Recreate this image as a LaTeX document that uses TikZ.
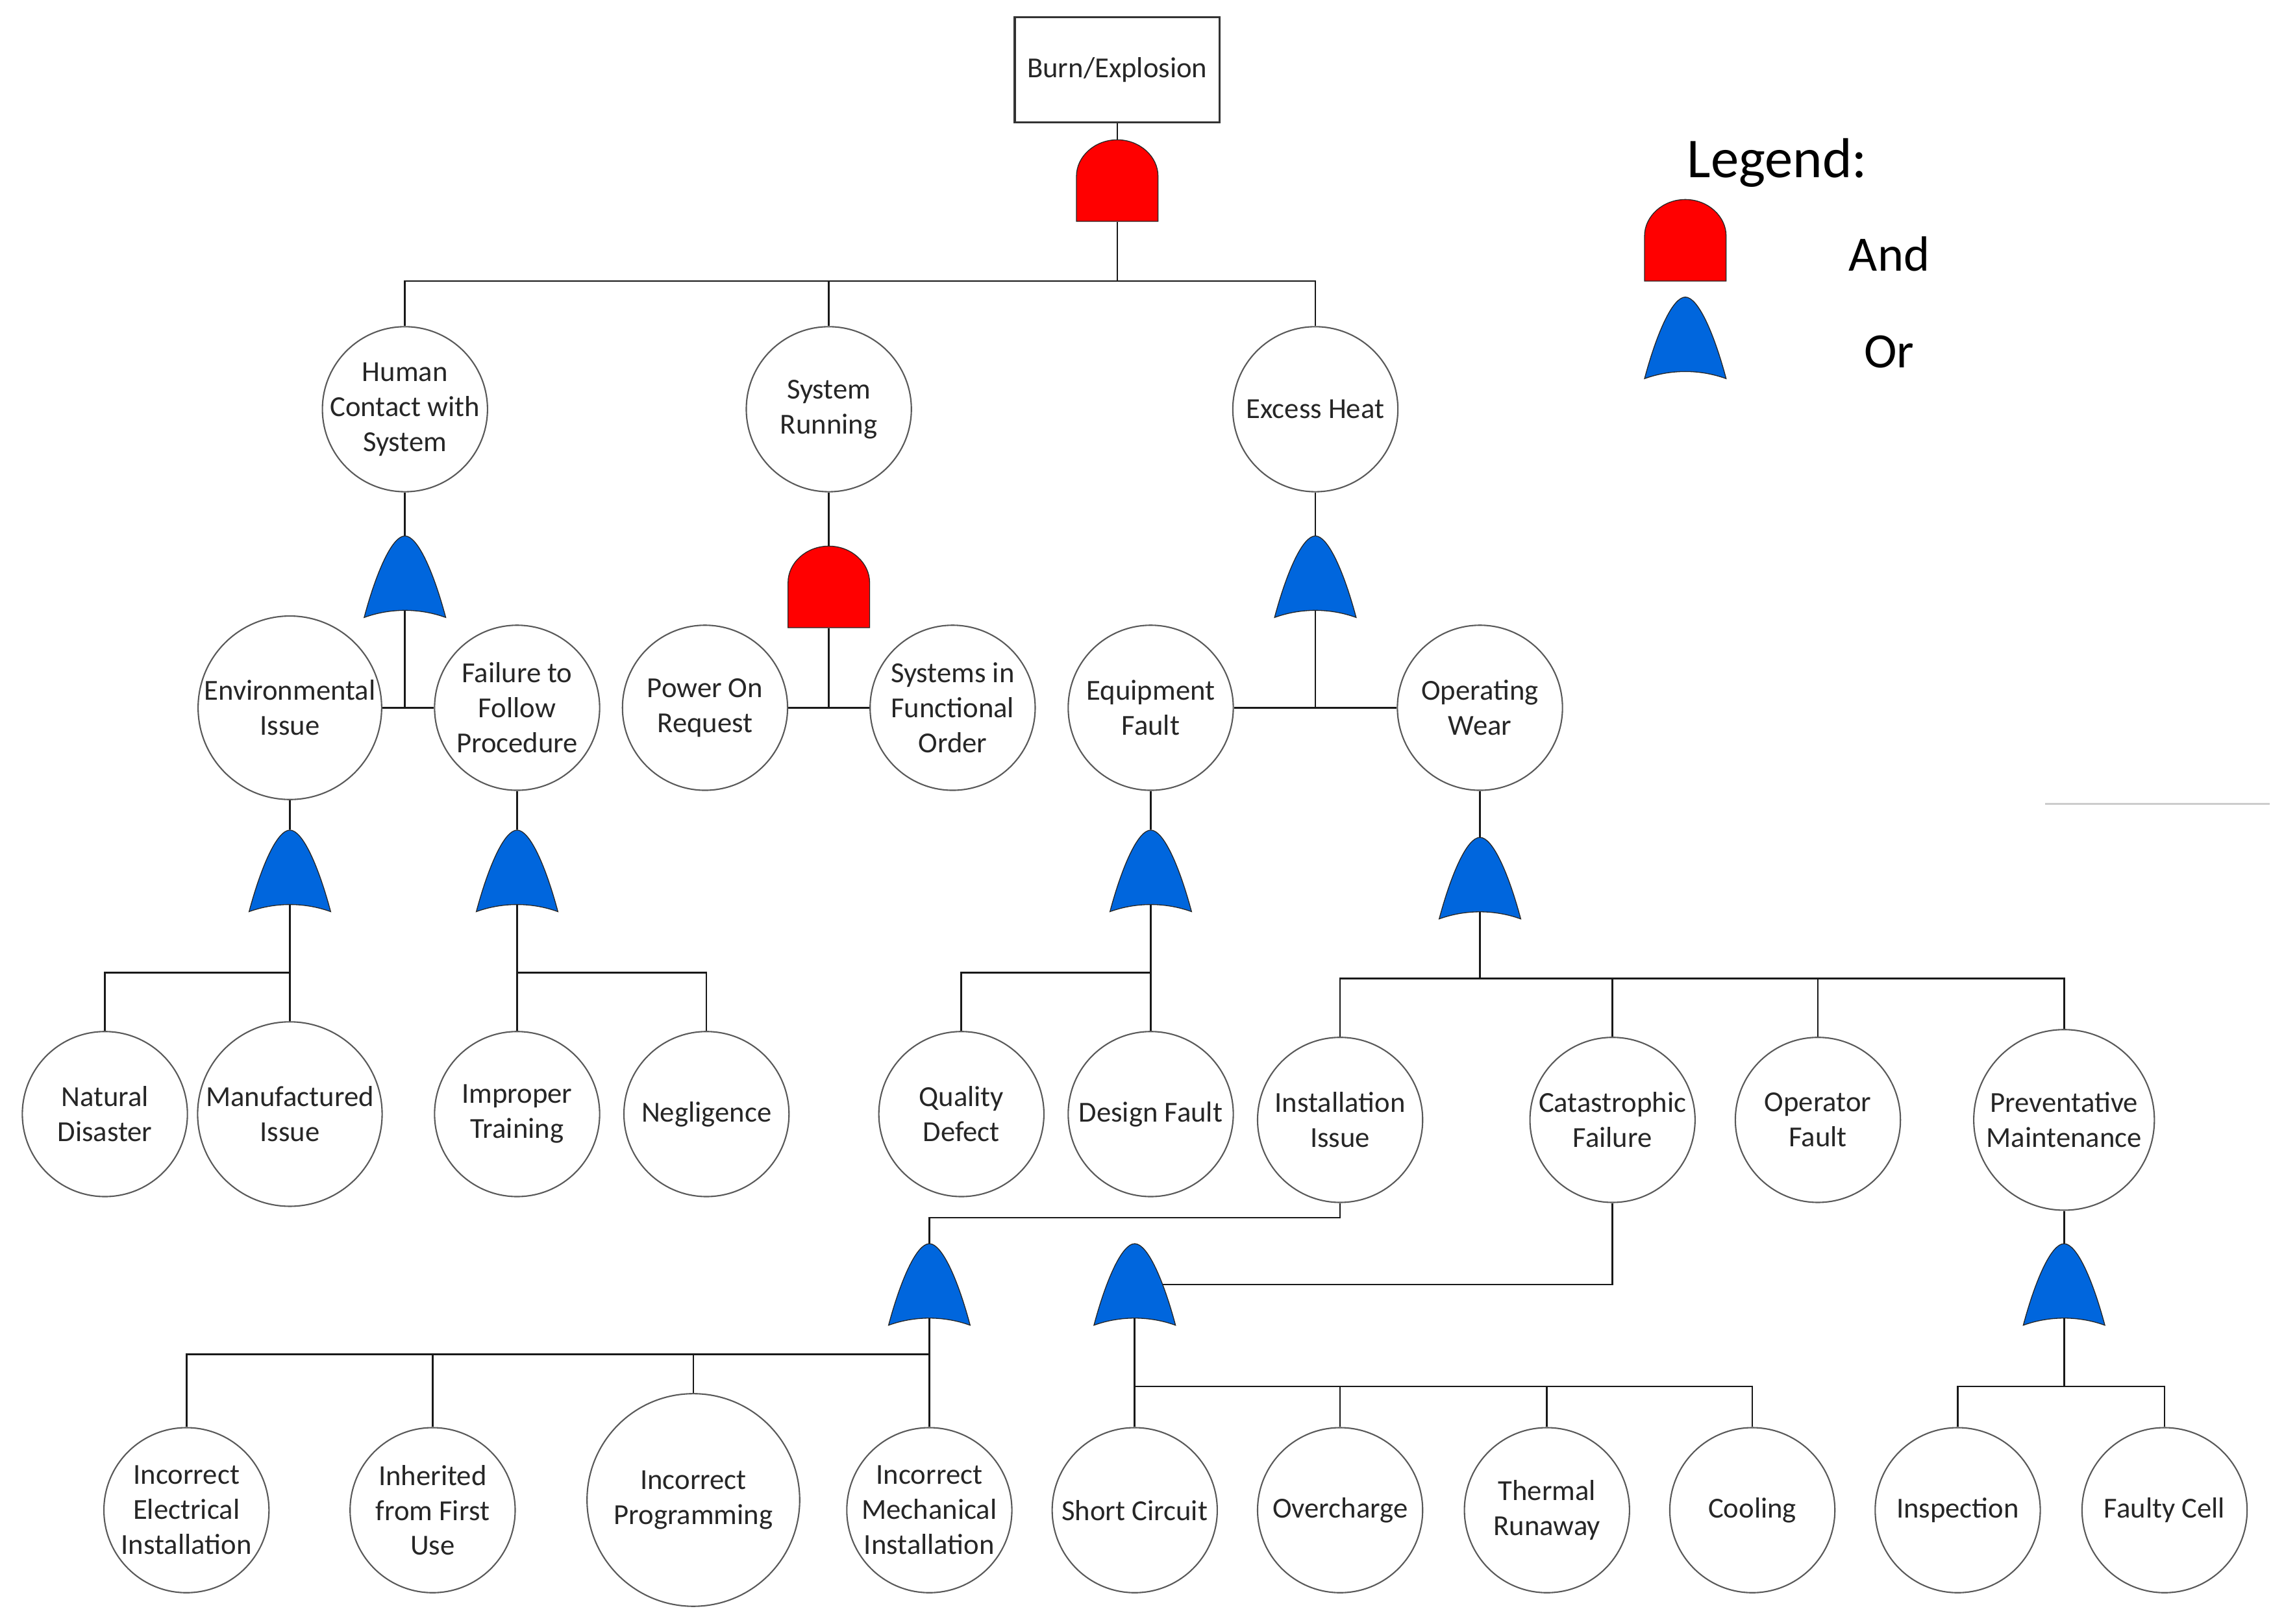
\documentclass[tikz,border=0pt]{standalone}
\usepackage{fontspec}
\setmainfont{Carlito}
\usetikzlibrary{backgrounds}

\begin{document}
\begin{tikzpicture}[x=0.3mm,y=-0.3mm,
    evento/.style={circle,draw=black!65,line width=0.8pt,fill=white,minimum size=34mm,inner sep=0pt},
    texto/.style={align=center,text=black!85,font=\fontsize{17}{20.5}\selectfont},
    puerta/.style={minimum width=16.8mm,minimum height=16.8mm,inner sep=0pt},
    linea/.style={draw=black!90,line width=1pt},
    contorno/.style={draw=black!85,line width=0.5pt},
    andgate/.pic={\path[contorno,fill=andred] (-28,28) -- (-28,-3)
        .. controls (-28,-16.5) and (-15.5,-28) .. (0,-28)
        .. controls (15.5,-28) and (28,-16.5) .. (28,-3) -- (28,28) -- cycle;},
    orgate/.pic={\path[contorno,fill=orblue] (-28,28)
        .. controls (-20,-2) and (-9,-28) .. (0,-28)
        .. controls (9,-28) and (20,-2) .. (28,28)
        .. controls (10,21.5) and (-10,21.5) .. (-28,28) -- cycle;}]
    \definecolor{andred}{RGB}{255,0,0}
    \definecolor{orblue}{RGB}{0,102,221}
    \useasboundingbox (0,0) rectangle (1568,1115);

    % Evento superior
    \node[draw=black!80,line width=1.25pt,minimum width=42.2mm,minimum height=21.7mm,texto] (burn) at (767,48) {Burn/Explosion};
    \node[puerta] (g0) at (767,124) {}; \pic at (g0) {andgate};

    % Nivel 1
    \node[evento,label={[texto]center:Human\\Contact with\\System}] (hcs) at (278,281) {};
    \node[evento,label={[texto]center:System\\Running}] (sr) at (569,281) {};
    \node[evento,label={[texto]center:Excess Heat}] (exh) at (903,281) {};
    \node[puerta] (g1) at (278,396) {}; \pic at (g1) {orgate};
    \node[puerta] (g2) at (569,403) {}; \pic at (g2) {andgate};
    \node[puerta] (g3) at (903,396) {}; \pic at (g3) {orgate};

    % Nivel 2
    \node[evento,minimum size=37.8mm,label={[texto]center:Environmental\\Issue}] (env) at (199,486) {};
    \node[evento,label={[texto]center:Failure to\\Follow\\Procedure}] (ffp) at (355,486) {};
    \node[evento,label={[texto]center:Power On\\Request}] (por) at (484,486) {};
    \node[evento,label={[texto]center:Systems in\\Functional\\Order}] (sfo) at (654,486) {};
    \node[evento,label={[texto]center:Equipment\\Fault}] (eqf) at (790,486) {};
    \node[evento,label={[texto]center:Operating\\Wear}] (opw) at (1016,486) {};
    \node[puerta] (g4) at (199,598) {}; \pic at (g4) {orgate};
    \node[puerta] (g5) at (355,598) {}; \pic at (g5) {orgate};
    \node[puerta] (g6) at (790,598) {}; \pic at (g6) {orgate};
    \node[puerta] (g7) at (1016,603) {}; \pic at (g7) {orgate};

    % Nivel 3
    \node[evento,label={[texto]center:Natural\\Disaster}] (nd) at (72,765) {};
    \node[evento,minimum size=38mm,label={[texto]center:Manufactured\\Issue}] (mi) at (199,765) {};
    \node[evento,label={[texto]center:Improper\\Training}] (it) at (355,765) {};
    \node[evento,label={[texto]center:Negligence}] (neg) at (485,765) {};
    \node[evento,label={[texto]center:Quality\\Defect}] (qd) at (660,765) {};
    \node[evento,label={[texto]center:Design Fault}] (df) at (790,765) {};
    \node[evento,label={[texto]center:Installation\\Issue}] (inst) at (920,769) {};
    \node[evento,label={[texto]center:Catastrophic\\Failure}] (catf) at (1107,769) {};
    \node[evento,label={[texto]center:Operator\\Fault}] (opf) at (1248,769) {};
    \node[evento,minimum size=37.2mm,label={[texto]center:Preventative\\Maintenance}] (pm) at (1417,769) {};
    \node[puerta] (gii) at (638,882) {}; \pic at (gii) {orgate};
    \node[puerta] (gsc) at (779,882) {}; \pic at (gsc) {orgate};
    \node[puerta] (gpm) at (1417,882) {}; \pic at (gpm) {orgate};

    % Nivel 4
    \node[evento,label={[texto]center:Incorrect\\Electrical\\Installation}] (iei) at (128,1037) {};
    \node[evento,label={[texto]center:Inherited\\from First\\Use}] (ifu) at (297,1037) {};
    \node[evento,minimum size=43.8mm,label={[texto]center:Incorrect\\Programming}] (ip) at (476,1030) {};
    \node[evento,label={[texto]center:Incorrect\\Mechanical\\Installation}] (imi) at (638,1037) {};
    \node[evento,label={[texto]center:Short Circuit}] (sc) at (779,1037) {};
    \node[evento,label={[texto]center:Overcharge}] (ovc) at (920,1037) {};
    \node[evento,label={[texto]center:Thermal\\Runaway}] (tr) at (1062,1037) {};
    \node[evento,label={[texto]center:Cooling}] (cool) at (1203,1037) {};
    \node[evento,label={[texto]center:Inspection}] (insp) at (1344,1037) {};
    \node[evento,label={[texto]center:Faulty Cell}] (fc) at (1486,1037) {};

    % Puntos de union
    \coordinate (b0) at (767,193);
    \coordinate (b1) at (278,486);
    \coordinate (b2) at (569,486);
    \coordinate (b3) at (903,486);
    \coordinate (b4) at (199,668);
    \coordinate (b5) at (355,668);
    \coordinate (b6) at (790,668);
    \coordinate (b7) at (1016,672);
    \coordinate (b8) at (638,930);
    \coordinate (b9) at (779,952);
    \coordinate (b10) at (1417,952);

    % Conexiones
    \begin{scope}[on background layer]
    \draw[linea] (burn.south) -- (g0.north);
    \draw[linea] (g0.south) -- (b0);
    \draw[linea] (hcs.north) |- (b0) -| (exh.north);
    \draw[linea] (sr.north) -- (sr.north |- b0);
    \draw[linea] (hcs.south) -- (g1.north);
    \draw[linea] (g1.center) -- (b1);
    \draw[linea] (env.east) -- (ffp.west);
    \draw[linea] (sr.south) -- (g2.north);
    \draw[linea] (g2.south) -- (b2);
    \draw[linea] (por.east) -- (sfo.west);
    \draw[linea] (exh.south) -- (g3.north);
    \draw[linea] (g3.center) -- (b3);
    \draw[linea] (eqf.east) -- (opw.west);
    \draw[linea] (env.south) -- (g4.north);
    \draw[linea] (g4.center) -- (mi.north);
    \draw[linea] (nd.north) |- (b4);
    \draw[linea] (ffp.south) -- (g5.north);
    \draw[linea] (g5.center) -- (it.north);
    \draw[linea] (neg.north) |- (b5);
    \draw[linea] (eqf.south) -- (g6.north);
    \draw[linea] (g6.center) -- (df.north);
    \draw[linea] (qd.north) |- (b6);
    \draw[linea] (opw.south) -- (g7.north);
    \draw[linea] (g7.center) -- (b7);
    \draw[linea] (inst.north) |- (b7) -| (pm.north);
    \draw[linea] (catf.north) -- (catf.north |- b7);
    \draw[linea] (opf.north) -- (opf.north |- b7);
    \draw[linea] (inst.south) -- ++(0,10) -| (gii.north);
    \draw[linea] (catf.south) |- (gsc.center);
    \draw[linea] (pm.south) -- (gpm.north);
    \draw[linea] (gii.center) -- (imi.north);
    \draw[linea] (iei.north) |- (b8);
    \draw[linea] (ifu.north) -- (ifu.north |- b8);
    \draw[linea] (ip.north) -- (ip.north |- b8);
    \draw[linea] (gsc.center) -- (sc.north);
    \draw[linea] (cool.north) |- (b9);
    \draw[linea] (ovc.north) -- (ovc.north |- b9);
    \draw[linea] (tr.north) -- (tr.north |- b9);
    \draw[linea] (gpm.center) -- (b10);
    \draw[linea] (insp.north) |- (b10) -| (fc.north);
    \end{scope}

    % Leyenda
    \node[anchor=base,font=\fontsize{33}{40}\selectfont] (ley) at (1220,122) {Legend:};
    \node[puerta] (lg1) at (1157,165) {}; \pic at (lg1) {andgate};
    \node[puerta] (lg2) at (1157,232) {}; \pic at (lg2) {orgate};
    \node[anchor=base,font=\fontsize{29}{35}\selectfont] (land) at (1297,186) {And};
    \node[anchor=base,font=\fontsize{29}{35}\selectfont] (lor) at (1297,252.5) {Or};

    % Linea suelta
    \draw[black!20,line width=0.8pt] (1404,552) -- (1558,552);
\end{tikzpicture}
\end{document}
